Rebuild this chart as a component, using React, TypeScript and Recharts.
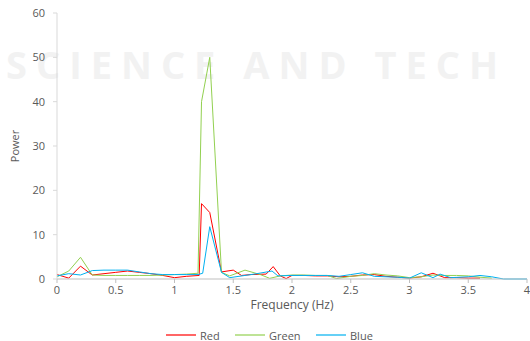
import React from "react";
import { LineChart, Line, XAxis, YAxis } from "recharts";

const freqRed = [0, 0.1, 0.2, 0.3, 0.4, 0.5, 0.6, 0.7, 0.8, 0.9, 1.0, 1.1, 1.21, 1.23, 1.3, 1.4, 1.5, 1.57, 1.65, 1.78, 1.84, 1.9, 1.95, 2.0, 2.1, 2.2, 2.3, 2.4, 2.5, 2.6, 2.7, 2.8, 2.9, 3.0, 3.1, 3.2, 3.3, 3.4, 3.5, 3.6];
const powerRed = [1.0, 0.2, 2.9, 0.9, 1.2, 1.5, 1.8, 1.5, 1.2, 0.8, 0.3, 0.6, 0.8, 17, 15, 1.6, 2.0, 0.8, 1.0, 1.1, 2.8, 0.7, 0.1, 0.8, 0.8, 0.7, 0.7, 0.5, 0.6, 0.9, 1.0, 0.6, 0.4, 0.2, 0.5, 1.3, 0.3, 0.3, 0.2, 0.2];

const freqGreen = [0, 0.1, 0.2, 0.3, 0.4, 0.5, 0.6, 0.7, 0.8, 0.9, 1.0, 1.1, 1.2, 1.23, 1.3, 1.4, 1.47, 1.6, 1.73, 1.81, 1.9, 2.0, 2.1, 2.2, 2.3, 2.38, 2.5, 2.6, 2.7, 2.8, 2.9, 3.0, 3.1, 3.2, 3.3, 3.4, 3.5, 3.6, 3.7];
const powerGreen = [0.5, 1.8, 4.9, 0.9, 0.8, 0.8, 0.8, 0.8, 0.8, 0.9, 1.0, 1.1, 1.3, 40, 50, 1.5, 0.7, 2.0, 1.0, 0.15, 0.7, 0.9, 0.9, 0.8, 0.8, 0.1, 0.6, 0.8, 1.2, 0.9, 0.7, 0.3, 0.5, 0.9, 0.8, 0.8, 0.7, 0.4, 0.2];

const freqBlue = [0, 0.1, 0.2, 0.3, 0.4, 0.5, 0.6, 0.7, 0.8, 0.9, 1.0, 1.1, 1.2, 1.24, 1.3, 1.4, 1.47, 1.6, 1.7, 1.83, 1.88, 2.0, 2.1, 2.2, 2.3, 2.4, 2.5, 2.6, 2.7, 2.8, 2.9, 3.0, 3.1, 3.2, 3.26, 3.35, 3.5, 3.6, 3.7, 3.8, 4.0];
const powerBlue = [0.7, 1.2, 0.9, 1.9, 2.0, 2.0, 2.0, 1.6, 1.2, 1.0, 1.0, 1.0, 1.0, 1.3, 11.8, 1.5, 0.3, 0.8, 1.2, 1.8, 0.7, 0.8, 0.8, 0.8, 0.8, 0.6, 1.0, 1.4, 0.6, 0.5, 0.4, 0.2, 1.4, 0.3, 1.1, 0.3, 0.5, 0.8, 0.5, 0, 0];

const xTicks = [0, 0.5, 1, 1.5, 2, 2.5, 3, 3.5, 4];
const yTicks = [0, 10, 20, 30, 40, 50, 60];

const toRows = (f: number[], p: number[]) => f.map((x, i) => ({ freq: x, power: p[i] }));

const series = [
  { name: "Red", color: "#ff0000", data: toRows(freqRed, powerRed) },
  { name: "Green", color: "#92d050", data: toRows(freqGreen, powerGreen) },
  { name: "Blue", color: "#00b0f0", data: toRows(freqBlue, powerBlue) },
];

const font = "'Open Sans', sans-serif";

export default function App() {
  return (
    <div style={{ position: "absolute", left: 0, top: 0, width: 530, height: 341, background: "#fff", fontFamily: font, overflow: "hidden" }}>
      {/* faint watermark behind the chart */}
      <div
        style={{
          position: "absolute",
          left: 6,
          top: 38,
          fontSize: 38,
          fontWeight: 700,
          letterSpacing: 9,
          color: "#f2f2f2",
          whiteSpace: "nowrap",
        }}
      >
        SCIENCE AND TECH
      </div>
      <div style={{ position: "absolute", left: 0, top: 0 }}>
        <LineChart width={530} height={341} margin={{ top: 13, right: 3, bottom: 32, left: 0 }}>
          <XAxis
            dataKey="freq"
            type="number"
            domain={[0, 4]}
            ticks={xTicks}
            allowDuplicatedCategory={false}
            height={30}
            stroke="#bfbfbf"
            tickSize={4}
            tickMargin={3}
            tick={{ fill: "#595959", fontSize: 11, fontFamily: font }}
            label={{ value: "Frequency (Hz)", position: "insideBottom", offset: 0, fill: "#595959", fontSize: 12, fontFamily: font }}
          />
          <YAxis
            type="number"
            domain={[0, 60]}
            ticks={yTicks}
            width={57}
            stroke="#d9d9d9"
            tickSize={4}
            tickMargin={8}
            tick={{ fill: "#595959", fontSize: 11, fontFamily: font }}
            label={{ value: "Power", angle: -90, position: "insideLeft", offset: 15, fill: "#595959", fontSize: 11, fontFamily: font, style: { textAnchor: "middle" } }}
          />
          {series.map((s) => (
            <Line
              key={s.name}
              data={s.data}
              dataKey="power"
              name={s.name}
              stroke={s.color}
              strokeWidth={1}
              dot={false}
              type="linear"
              isAnimationActive={false}
            />
          ))}
        </LineChart>
      </div>
      <div style={{ position: "absolute", left: 0, top: 327, width: 530, height: 16, fontSize: 11, color: "#595959" }}>
        {series.map((s, i) => (
          <div key={s.name} style={{ position: "absolute", left: [166, 235, 316][i], top: 0, display: "flex", alignItems: "center", height: 16 }}>
            <span style={{ display: "inline-block", width: 30, height: 2, background: s.color, opacity: 0.6, marginRight: 4 }} />
            <span>{s.name}</span>
          </div>
        ))}
      </div>
    </div>
  );
}
